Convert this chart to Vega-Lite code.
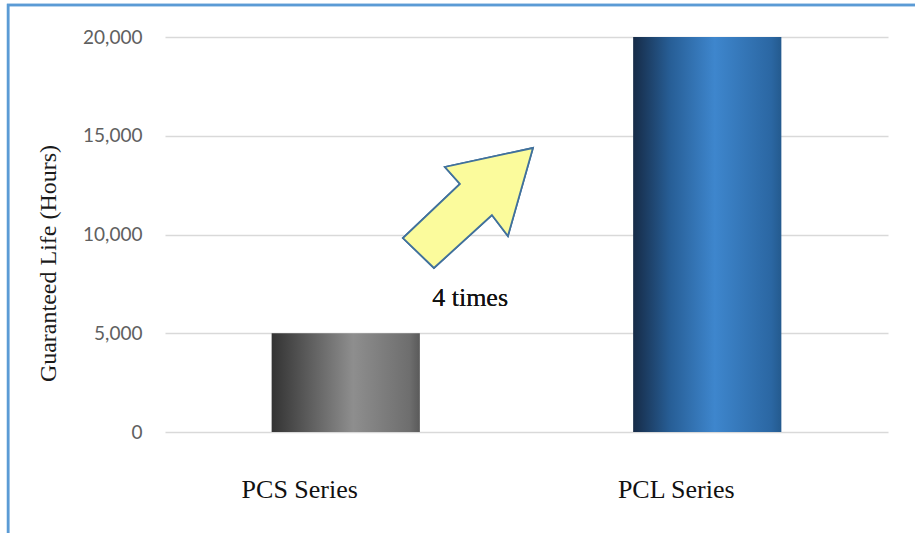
{
  "$schema": "https://vega.github.io/schema/vega-lite/v6.json",
  "autosize": {"type": "none"},
  "padding": {"left": 165, "top": 37, "right": 27, "bottom": 101},
  "width": 723,
  "height": 395,
  "background": "#ffffff",
  "config": {"view": {"stroke": null}},
  "data": {"values": [
    {"series": "PCS Series", "hours": 5000},
    {"series": "PCL Series", "hours": 20000}
  ]},
  "resolve": {"scale": {"x": "independent"}},
  "layer": [
    {
      "encoding": {
        "x": {"field": "series", "type": "nominal", "sort": ["PCS Series", "PCL Series"],
          "scale": {"domain": ["PCS Series", "PCL Series"], "paddingInner": 0.59, "paddingOuter": 0.295},
          "axis": {"title": null, "domain": false, "ticks": false, "labelFont": "Liberation Serif", "labelFontSize": 26, "labelColor": "#111111",
            "labelOffset": {"condition": {"test": "datum.value == 'PCS Series'", "value": -46}, "value": -31},
            "labelPadding": 44, "labelAngle": 0}},
        "y": {"field": "hours", "type": "quantitative",
          "scale": {"domain": [0, 20000], "nice": false},
          "axis": {"values": [0, 5000, 10000, 15000, 20000], "format": ",d", "domain": false, "ticks": false,
            "grid": true, "gridColor": "#d9d9d9", "gridWidth": 1.5,
            "labelFont": "Lato", "labelFontSize": 19, "labelColor": "#606060", "labelPadding": 23,
            "title": "Guaranteed Life (Hours)", "titleFont": "Liberation Serif", "titleFontSize": 24, "titleFontWeight": "normal", "titleColor": "#1a1a1a",
            "titleAngle": -90, "titleX": -117, "titleY": 226, "titleAlign": "center", "titleBaseline": "middle"}}
      },
      "layer": [
        {
          "transform": [{"filter": "datum.series == 'PCS Series'"}],
          "mark": {"type": "bar", "fill": {"gradient": "linear", "x1": 0, "x2": 1, "y1": 0, "y2": 0, "stops": [
            {"offset": 0, "color": "#333333"},
            {"offset": 0.55, "color": "#8e8e8e"},
            {"offset": 0.93, "color": "#6e6e6e"},
            {"offset": 1, "color": "#5a5a5a"}
          ]}}
        },
        {
          "transform": [{"filter": "datum.series == 'PCL Series'"}],
          "mark": {"type": "bar", "fill": {"gradient": "linear", "x1": 0, "x2": 1, "y1": 0, "y2": 0, "stops": [
            {"offset": 0, "color": "#162b47"},
            {"offset": 0.25, "color": "#275e96"},
            {"offset": 0.55, "color": "#3e86cd"},
            {"offset": 0.93, "color": "#2b67a3"},
            {"offset": 1, "color": "#245a8e"}
          ]}}
        }
      ]
    },
    {
      "mark": {"type": "rect", "fill": null, "stroke": "#5b9bd5", "strokeWidth": 2.5, "clip": false},
      "encoding": {
        "x": {"datum": -0.434, "type": "quantitative", "scale": {"domain": [0, 2], "nice": false, "zero": false}, "axis": null},
        "x2": {"datum": 2.3},
        "y": {"datum": 21620, "type": "quantitative"},
        "y2": {"datum": -8000}
      }
    },
    {
      "mark": {"type": "point", "shape": "M1,-0.923L-0.354,-0.631L-0.123,-0.369L-1,0.462L-0.523,0.923L0.369,0.108L0.615,0.431Z",
        "filled": true, "fill": "#fbfb9c", "stroke": "#41719c", "strokeWidth": 1.8, "opacity": 1, "size": 16900},
      "encoding": {
        "x": {"datum": 0.838, "type": "quantitative", "scale": {"domain": [0, 2], "nice": false, "zero": false}, "axis": null},
        "y": {"datum": 11342, "type": "quantitative"}
      }
    },
    {
      "mark": {"type": "text", "text": "4 times", "font": "Liberation Serif", "fontSize": 26, "color": "#111111", "baseline": "middle", "align": "center"},
      "encoding": {
        "x": {"datum": 0.844, "type": "quantitative", "scale": {"domain": [0, 2], "nice": false, "zero": false}, "axis": null},
        "y": {"datum": 6785, "type": "quantitative"}
      }
    }
  ]
}
